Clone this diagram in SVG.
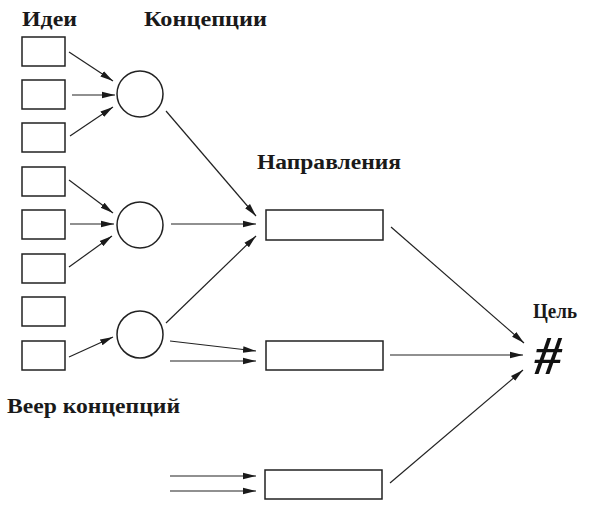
<svg xmlns="http://www.w3.org/2000/svg" width="593" height="509" viewBox="0 0 593 509">
<defs>
<style>
.box{fill:#fff;stroke:#222;stroke-width:1.5}
.circ{fill:#fff;stroke:#222;stroke-width:1.5}
.lbl{font-weight:bold;font-size:20px;fill:#1a1a1a}
.conn line{stroke:#222;stroke-width:1.2;marker-end:url(#ah)}
</style>
<marker id="ah" markerUnits="userSpaceOnUse" markerWidth="14" markerHeight="8" refX="13" refY="4" orient="auto">
<path d="M0,0.8 L13,4 L0,7.2 Z" fill="#1a1a1a"/>
</marker>
</defs>
<rect width="593" height="509" fill="#fff"/>
<g id="labels" font-family="'Liberation Serif', 'DejaVu Serif', serif">
<text class="lbl" x="22" y="26" textLength="55" lengthAdjust="spacingAndGlyphs">Идеи</text>
<text class="lbl" x="144" y="26" textLength="123" lengthAdjust="spacingAndGlyphs">Концепции</text>
<text class="lbl" x="257" y="169" textLength="144" lengthAdjust="spacingAndGlyphs">Направления</text>
<text class="lbl" x="533" y="318" font-size="18" textLength="44" lengthAdjust="spacingAndGlyphs">Цель</text>
<text class="lbl" x="7" y="413" textLength="173" lengthAdjust="spacingAndGlyphs">Веер концепций</text>
</g>
<g id="idea1"><rect class="box" x="22" y="37" width="43" height="29"/></g>
<g id="idea2"><rect class="box" x="22" y="80" width="43" height="29"/></g>
<g id="idea3"><rect class="box" x="22" y="123" width="43" height="29"/></g>
<g id="idea4"><rect class="box" x="22" y="167" width="43" height="29"/></g>
<g id="idea5"><rect class="box" x="22" y="210" width="43" height="29"/></g>
<g id="idea6"><rect class="box" x="22" y="254" width="43" height="29"/></g>
<g id="idea7"><rect class="box" x="22" y="297" width="43" height="29"/></g>
<g id="idea8"><rect class="box" x="22" y="341" width="43" height="29"/></g>
<g id="concept1"><circle class="circ" cx="140" cy="94" r="23"/></g>
<g id="concept2"><circle class="circ" cx="140" cy="225" r="23"/></g>
<g id="concept3"><ellipse class="circ" cx="140" cy="334.5" rx="23" ry="23.5"/></g>
<g id="direction1"><rect class="box" x="266" y="210" width="117" height="30"/></g>
<g id="direction2"><rect class="box" x="266" y="341" width="117" height="29"/></g>
<g id="direction3"><rect class="box" x="265" y="470" width="117" height="29"/></g>
<g id="goal"><text x="548" y="374" text-anchor="middle" font-family="'Liberation Serif', 'DejaVu Serif', serif" font-size="54" font-weight="bold" font-style="italic" fill="#111">#</text></g>
<g class="conn" id="connectors">
<line x1="69" y1="52" x2="113" y2="81"/>
<line x1="72" y1="95" x2="115" y2="95"/>
<line x1="70" y1="136" x2="113" y2="107"/>
<line x1="69" y1="180" x2="113" y2="213"/>
<line x1="70" y1="224" x2="114" y2="224"/>
<line x1="69" y1="267" x2="112" y2="236"/>
<line x1="69" y1="357" x2="113" y2="337"/>
<line x1="166" y1="111" x2="256" y2="216"/>
<line x1="171" y1="224" x2="256" y2="224"/>
<line x1="166" y1="323" x2="256" y2="236"/>
<line x1="170" y1="341" x2="256" y2="351"/>
<line x1="170" y1="361" x2="256" y2="361"/>
<line x1="170" y1="476" x2="256" y2="476"/>
<line x1="170" y1="491" x2="256" y2="491"/>
<line x1="391" y1="227" x2="524" y2="343"/>
<line x1="390" y1="355" x2="523" y2="355"/>
<line x1="390" y1="483" x2="523" y2="370"/>
</g>
</svg>
